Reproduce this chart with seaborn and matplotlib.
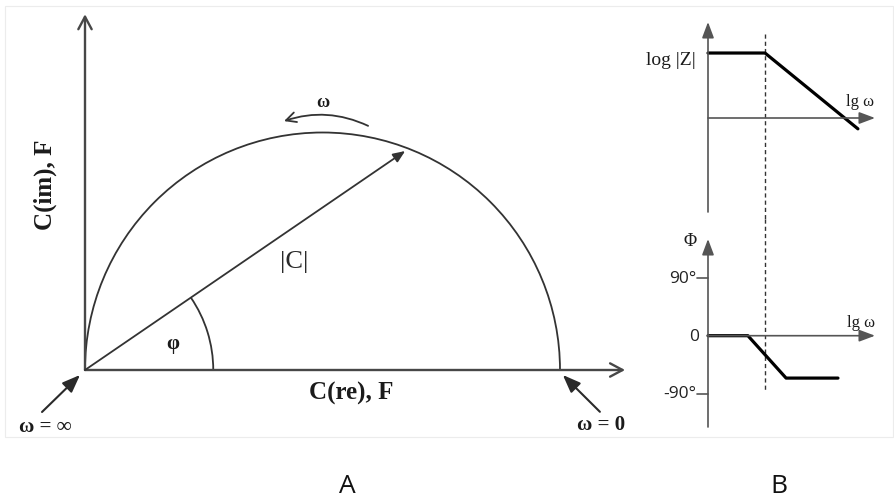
import math
import matplotlib
matplotlib.use("Agg")
import matplotlib.pyplot as plt
import seaborn as sns
from matplotlib.patches import Arc, Rectangle

# ---------------------------------------------------------------------------
# Panel A: complex capacitance (Cole-Cole) diagram, semicircle diameter = 1
# ---------------------------------------------------------------------------
semicircle_center = (0.5, 0.0)
semicircle_diameter = 1.0
vector_tip = [0.674, 0.461]        # |C| vector end point on the semicircle
phi_arc_radius = 0.27
re_axis_end = 1.137
im_axis_end = 0.749

# ---------------------------------------------------------------------------
# Panel B: asymptotic Bode plots
# ---------------------------------------------------------------------------
corner_lgw = 1.0
mag_lgw = [0.0, 1.0, 2.63]
mag_logz = [1.14, 1.14, -0.19]
phase_lgw = [0.0, 0.70, 1.37, 2.28]
phase_deg = [0.0, 0.0, -66.0, -66.0]
phase_ticks = [90, 0, -90]
phase_ticklabels = ["90°", "0", "-90°"]

sns.set_theme(style="white")
plt.rcParams["font.family"] = ["DejaVu Sans"]

W, H = 894, 502
SERIF = ["Liberation Serif", "DejaVu Serif"]
SANS = ["Open Sans", "DejaVu Sans"]
INK = "#1b1b1b"


def px_box(x0, y0, x1, y1):
    return [x0 / W, 1 - y1 / H, (x1 - x0) / W, (y1 - y0) / H]


fig = plt.figure(figsize=(W / 100, H / 100), dpi=100)
fig.patch.set_facecolor("white")

# faint frame around the diagram area
fig.patches.append(Rectangle((5 / W, 1 - 438 / H), 888 / W, 431 / H,
                             transform=fig.transFigure, fill=False,
                             edgecolor="#ececec", lw=0.8))

# ---------------------------- panel A ------------------------------------
axA = fig.add_axes(px_box(0, 0, 660, 440))
axA.set_axis_off()
unit = 475.0
axA.set_xlim(-85 / unit, 575 / unit)
axA.set_ylim(-69 / unit, 371 / unit)

axis_col = "#474747"
open_head = "->,head_length=0.75,head_width=0.4"
axA.annotate("", xy=(0, im_axis_end), xytext=(0, 0),
             arrowprops=dict(arrowstyle=open_head, lw=1.7, color=axis_col,
                             shrinkA=0, shrinkB=0))
axA.annotate("", xy=(re_axis_end, 0), xytext=(0, 0),
             arrowprops=dict(arrowstyle=open_head, lw=1.7, color=axis_col,
                             shrinkA=0, shrinkB=0))

axA.add_patch(Arc(semicircle_center, semicircle_diameter, semicircle_diameter,
                  theta1=0, theta2=180, lw=1.3, color="#333333"))

axA.annotate("", xy=tuple(vector_tip), xytext=(0, 0),
             arrowprops=dict(arrowstyle="-|>,head_length=0.6,head_width=0.25",
                             lw=1.3, color="#333333", shrinkA=0, shrinkB=0))

phi_deg = math.degrees(math.atan2(vector_tip[1], vector_tip[0]))
axA.add_patch(Arc((0, 0), 2 * phi_arc_radius, 2 * phi_arc_radius,
                  theta1=0, theta2=phi_deg, lw=1.3, color="#333333"))

# direction of increasing frequency
axA.annotate("", xy=(0.419, 0.524), xytext=(0.596, 0.514),
             arrowprops=dict(arrowstyle="->,head_length=0.6,head_width=0.3",
                             lw=1.3, color="#333333", shrinkA=0, shrinkB=0,
                             connectionstyle="arc3,rad=0.2"))
axA.text(0.501, 0.566, "ω", ha="center", va="center", fontsize=13,
         fontweight="bold", family=SERIF, color=INK)

# limit markers
axA.annotate("", xy=(-0.0105, -0.0105), xytext=(-0.0905, -0.0884),
             arrowprops=dict(arrowstyle="-|>,head_length=0.9,head_width=0.35",
                             lw=1.5, color="#2a2a2a", shrinkA=0, shrinkB=0))
axA.annotate("", xy=(1.006, -0.0105), xytext=(1.084, -0.088),
             arrowprops=dict(arrowstyle="-|>,head_length=0.9,head_width=0.35",
                             lw=1.5, color="#2a2a2a", shrinkA=0, shrinkB=0))
axA.text(-0.084, -0.118, "ω = ∞", ha="center", va="center", fontsize=15,
         fontweight="bold", family=SERIF, color=INK)
axA.text(1.086, -0.114, "ω = 0", ha="center", va="center", fontsize=15,
         fontweight="bold", family=SERIF, color=INK)

axA.text(-0.084, 0.392, "C(im), F", ha="center", va="center", rotation=90,
         fontsize=18, fontweight="bold", family=SERIF, color=INK)
axA.text(0.56, -0.048, "C(re), F", ha="center", va="center",
         fontsize=18, fontweight="bold", family=SERIF, color=INK)
axA.text(0.44, 0.229, "|C|", ha="center", va="center", fontsize=19,
         family=SERIF, color="#2a2a2a")
axA.text(0.185, 0.057, "φ", ha="center", va="center", fontsize=15,
         fontweight="bold", family=SERIF, color=INK)

# ---------------------------- panel B: magnitude -------------------------
sx = 57.0
axM = fig.add_axes(px_box(640, 0, 894, 220))
axM.set_axis_off()
axM.set_xlim(-68 / sx, 186 / sx)
axM.set_ylim(-101 / sx, 119 / sx)

b_axis = "#555555"
fill_head = "-|>,head_length=0.8,head_width=0.3"
axM.annotate("", xy=(0, 96 / sx), xytext=(0, -94 / sx),
             arrowprops=dict(arrowstyle=fill_head, lw=1.2, color=b_axis,
                             shrinkA=0, shrinkB=0))
axM.annotate("", xy=(2.93, 0), xytext=(0, 0),
             arrowprops=dict(arrowstyle=fill_head, lw=1.2, color=b_axis,
                             shrinkA=0, shrinkB=0))
axM.plot([corner_lgw, corner_lgw], [84 / sx, -101 / sx], ls=(0, (3, 2.2)),
         lw=1.0, color="#333333", clip_on=False)
sns.lineplot(x=mag_lgw, y=mag_logz, ax=axM, color="black", lw=2.3,
             sort=False, estimator=None)
axM.text(-0.21, 1.035, "log |Z|", ha="right", va="center", fontsize=14,
         family=SERIF, color=INK)
axM.text(2.67, 0.30, "lg ω", ha="center", va="center", fontsize=12,
         family=SERIF, color=INK)

# ---------------------------- panel B: phase -----------------------------
sy = 57.8 / 90.0
oy = 336.7
axP = fig.add_axes(px_box(640, 220, 894, 440))
axP.set_axis_off()
axP.set_xlim(-68 / sx, 186 / sx)
axP.set_ylim((oy - 440) / sy, (oy - 220) / sy)

axP.annotate("", xy=(0, (oy - 240) / sy), xytext=(0, (oy - 428) / sy),
             arrowprops=dict(arrowstyle=fill_head, lw=1.2, color=b_axis,
                             shrinkA=0, shrinkB=0))
axP.annotate("", xy=(2.93, 0), xytext=(0, 0),
             arrowprops=dict(arrowstyle=fill_head, lw=1.2, color=b_axis,
                             shrinkA=0, shrinkB=0))
axP.plot([corner_lgw, corner_lgw], [(oy - 220) / sy, (oy - 393) / sy],
         ls=(0, (3, 2.2)), lw=1.0, color="#333333", clip_on=False)
for t, lab in zip(phase_ticks, phase_ticklabels):
    if t != 0:
        axP.plot([-11 / sx, 0], [t, t], lw=1.2, color=b_axis)
    axP.text(-11.5 / sx if t != 0 else -9 / sx, t, lab, ha="right",
             va="center", fontsize=12.5, family=SANS, color="#222222")
sns.lineplot(x=phase_lgw, y=phase_deg, ax=axP, color="black", lw=2.3,
             sort=False, estimator=None)
axP.text(-18 / sx, (oy - 241) / sy, "Φ", ha="center", va="center",
         fontsize=13, family=SERIF, color=INK)
axP.text(2.68, 21.3, "lg ω", ha="center", va="center", fontsize=12,
         family=SERIF, color=INK)

# panel letters
fig.text(347 / W, 1 - 487 / H, "A", ha="center", va="center", fontsize=19,
         family=SANS, color="#111111")
fig.text(779 / W, 1 - 487 / H, "B", ha="center", va="center", fontsize=19,
         family=SANS, color="#111111")

fig.savefig("out.png", dpi=100, facecolor="white")
